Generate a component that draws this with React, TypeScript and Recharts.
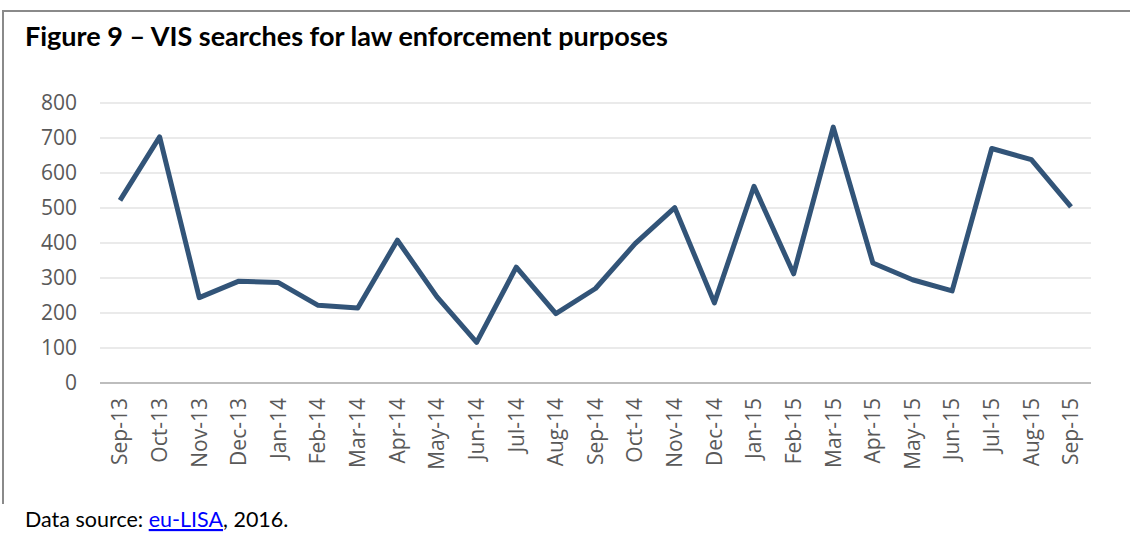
import React from 'react';
import { LineChart, Line, XAxis, YAxis, CartesianGrid } from 'recharts';

const months = [
  'Sep-13', 'Oct-13', 'Nov-13', 'Dec-13', 'Jan-14', 'Feb-14', 'Mar-14', 'Apr-14', 'May-14',
  'Jun-14', 'Jul-14', 'Aug-14', 'Sep-14', 'Oct-14', 'Nov-14', 'Dec-14', 'Jan-15', 'Feb-15',
  'Mar-15', 'Apr-15', 'May-15', 'Jun-15', 'Jul-15', 'Aug-15', 'Sep-15',
];

const searches = [
  522, 703, 244, 291, 287, 222, 214, 408, 246,
  116, 331, 198, 270, 398, 501, 229, 562, 312,
  731, 343, 295, 263, 670, 638, 503,
];

const yTicks = [0, 100, 200, 300, 400, 500, 600, 700, 800];

const data = months.map((month, i) => ({ month, value: searches[i] }));

const tickFont = '"Open Sans", "Noto Sans", sans-serif';

const MonthTick = (props: any) => {
  const { x, y, payload } = props;
  return (
    <text
      x={x}
      y={y}
      dy="0.35em"
      transform={`rotate(-90, ${x}, ${y})`}
      textAnchor="end"
      fill="#595959"
      fontSize={21}
      fontFamily={tickFont}
    >
      {payload.value}
    </text>
  );
};

const App: React.FC = () => {
  return (
    <div style={{ position: 'absolute', left: 0, top: 0, width: 1130, height: 533, background: '#fff', overflow: 'hidden' }}>
      {/* frame: top and left rules */}
      <div style={{ position: 'absolute', left: 2, top: 10, width: 1140, height: 492, borderTop: '2px solid #8a8a8a', borderLeft: '2px solid #8a8a8a' }} />
      <div style={{ position: 'absolute', left: 0, top: 0 }}>
        <LineChart width={1130} height={533} data={data} margin={{ top: 103, right: 39, left: 0, bottom: 0 }}>
          <CartesianGrid vertical={false} stroke="#e3e3e3" strokeWidth={1.5} />
          <XAxis
            dataKey="month"
            interval={0}
            height={150}
            padding={{ left: 20, right: 20 }}
            tickLine={false}
            tickSize={0}
            tickMargin={15}
            axisLine={{ stroke: '#aeaeae', strokeWidth: 1.5 }}
            tick={<MonthTick />}
          />
          <YAxis
            width={100}
            domain={[0, 800]}
            ticks={yTicks}
            axisLine={false}
            tickLine={false}
            tickSize={0}
            tickMargin={23}
            tick={{ fill: '#595959', fontSize: 21, fontFamily: tickFont }}
          />
          <Line
            type="linear"
            dataKey="value"
            stroke="#325478"
            strokeWidth={5}
            strokeLinejoin="round"
            dot={false}
            activeDot={false}
            isAnimationActive={false}
          />
        </LineChart>
      </div>
      <svg width={1130} height={533} style={{ position: 'absolute', left: 0, top: 0, pointerEvents: 'none' }}>
        <text x={25} y={46} fontFamily="Lato, 'Open Sans', sans-serif" fontWeight={700} fontSize={27} fill="#000">
          Figure 9 – VIS searches for law enforcement purposes
        </text>
        <text x={25} y={527} fontFamily="Lato, 'Open Sans', sans-serif" fontSize={21.5} fill="#000">
          Data source:{' '}
          <tspan fill="#0000ff" textDecoration="underline" style={{ textDecoration: 'underline' }}>eu-LISA</tspan>
          , 2016.
        </text>
      </svg>
    </div>
  );
};

export default App;
